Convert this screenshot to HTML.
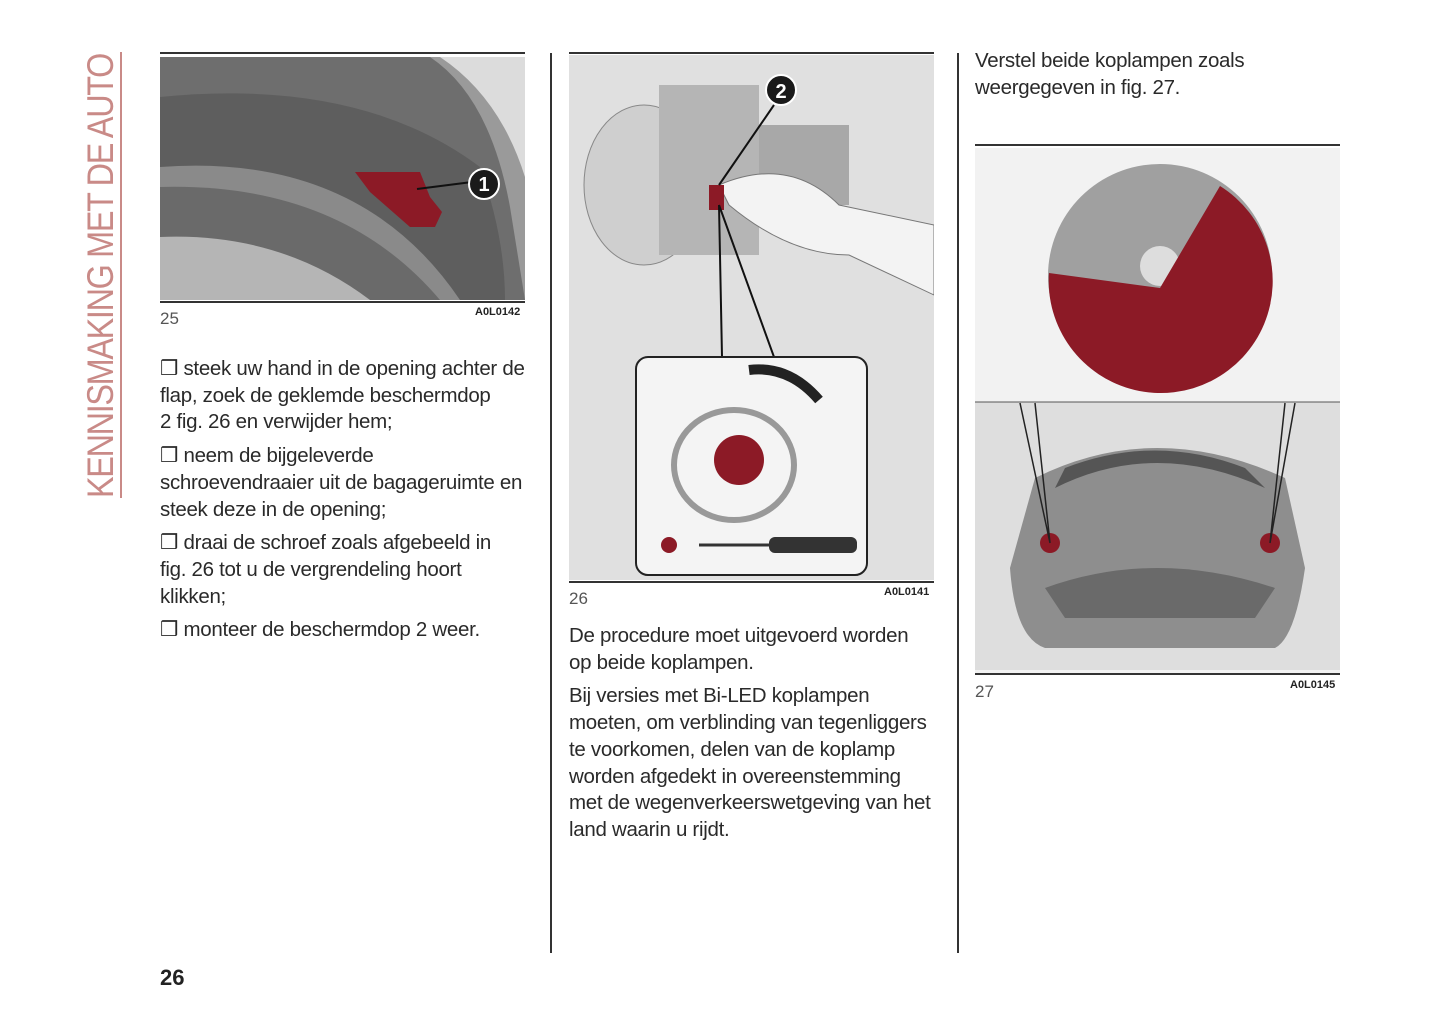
<!DOCTYPE html>
<html><head><meta charset="utf-8"><style>
body{margin:0;background:#fff;width:1445px;height:1026px;position:relative;overflow:hidden;font-family:"Liberation Sans",sans-serif;color:#333}
.a{position:absolute}
.rule{position:absolute;height:2px;background:#333}
.t{position:absolute;font-size:20.5px;line-height:26.7px;color:#2a2a2a;letter-spacing:-0.3px;white-space:nowrap}
.t p{margin:0 0 7px 0}
.cap{position:absolute;font-size:17px;color:#555}
.code{position:absolute;font-size:11px;font-weight:bold;color:#222}
</style></head><body>
<div class="a" style="left:120px;top:52px;width:2px;height:446px;background:#c98a87"></div>
<div class="a" style="left:82px;top:498px;width:530px;height:38px;transform-origin:0 0;transform:rotate(-90deg) scaleX(0.875);font-size:37px;line-height:38px;color:#c98a87;letter-spacing:-1.5px;white-space:nowrap">KENNISMAKING MET DE AUTO</div>

<div class="rule" style="left:160px;top:52px;width:365px"></div>
<svg class="a" style="left:160px;top:57px" width="365" height="243">
<rect width="365" height="243" fill="#9a9a9a"/>
<path d="M0 0 H280 Q340 40 365 120 V0Z" fill="#dcdcdc"/>
<path d="M0 0 H270 Q330 40 350 150 L365 243 H0Z" fill="#6e6e6e"/>
<path d="M0 40 Q200 20 320 110 Q345 180 345 243 H0Z" fill="#5e5e5e"/>
<path d="M0 110 Q200 95 300 243 H0Z" fill="#8a8a8a"/>
<path d="M0 130 Q180 125 280 243 H0Z" fill="#6a6a6a"/>
<path d="M0 180 Q120 175 210 243 H0Z" fill="#b5b5b5"/>
<path d="M195 115 L260 115 L270 140 L282 155 L275 170 L250 170 L210 135Z" fill="#8c1a26"/>
<line x1="257" y1="132" x2="312" y2="125" stroke="#111" stroke-width="2"/>
<circle cx="324" cy="127" r="15" fill="#1a1a1a" stroke="#fff" stroke-width="2"/>
<text x="324" y="134" fill="#fff" font-size="20" font-weight="bold" text-anchor="middle">1</text>
</svg>
<div class="rule" style="left:160px;top:301px;width:365px"></div>
<div class="cap" style="left:160px;top:309px">25</div>
<div class="code" style="left:475px;top:306px">A0L0142</div>
<div class="t" style="left:160px;top:356px">
<p>❒ steek uw hand in de opening achter de<br>flap, zoek de geklemde beschermdop<br>2 fig. 26 en verwijder hem;</p>
<p>❒ neem de bijgeleverde<br>schroevendraaier uit de bagageruimte en<br>steek deze in de opening;</p>
<p>❒ draai de schroef zoals afgebeeld in<br>fig. 26 tot u de vergrendeling hoort<br>klikken;</p>
<p>❒ monteer de beschermdop 2 weer.</p>
</div>

<div class="a" style="left:550px;top:53px;width:1.5px;height:900px;background:#333"></div>
<div class="a" style="left:957px;top:53px;width:1.5px;height:900px;background:#333"></div>

<div class="rule" style="left:569px;top:52px;width:365px"></div>
<svg class="a" style="left:569px;top:55px" width="365" height="525">
<rect width="365" height="525" fill="#e0e0e0"/>
<ellipse cx="75" cy="130" rx="60" ry="80" fill="#cfcfcf" stroke="#888"/>
<rect x="90" y="30" width="100" height="170" fill="#b5b5b5"/>
<rect x="190" y="70" width="90" height="80" fill="#a8a8a8"/>
<path d="M150 130 Q220 100 270 150 L365 170 V240 L280 200 Q220 200 160 150Z" fill="#f3f3f3" stroke="#777"/>
<rect x="140" y="130" width="15" height="25" fill="#8c1a26"/>
<line x1="150" y1="130" x2="205" y2="50" stroke="#111" stroke-width="2"/>
<circle cx="212" cy="35" r="15" fill="#1a1a1a" stroke="#fff" stroke-width="2"/>
<text x="212" y="43" fill="#fff" font-size="20" font-weight="bold" text-anchor="middle">2</text>
<path d="M150 150 L153 302 M150 150 L205 302" stroke="#111" stroke-width="2" fill="none"/>
<rect x="67" y="302" width="231" height="218" rx="12" fill="#f4f4f4" stroke="#222" stroke-width="2"/>
<ellipse cx="165" cy="410" rx="60" ry="55" fill="none" stroke="#999" stroke-width="6"/>
<ellipse cx="170" cy="405" rx="25" ry="25" fill="#8c1a26"/>
<path d="M180 315 Q220 310 250 345" stroke="#222" stroke-width="10" fill="none"/>
<line x1="130" y1="490" x2="285" y2="490" stroke="#333" stroke-width="3"/>
<rect x="200" y="482" width="88" height="16" rx="6" fill="#333"/>
<circle cx="100" cy="490" r="8" fill="#8c1a26"/>
</svg>
<div class="rule" style="left:569px;top:581px;width:365px"></div>
<div class="cap" style="left:569px;top:589px">26</div>
<div class="code" style="left:884px;top:586px">A0L0141</div>
<div class="t" style="left:569px;top:623px">
<p>De procedure moet uitgevoerd worden<br>op beide koplampen.</p>
<p>Bij versies met Bi-LED koplampen<br>moeten, om verblinding van tegenliggers<br>te voorkomen, delen van de koplamp<br>worden afgedekt in overeenstemming<br>met de wegenverkeerswetgeving van het<br>land waarin u rijdt.</p>
</div>

<div class="t" style="left:975px;top:48px"><p>Verstel beide koplampen zoals<br>weergegeven in fig. 27.</p></div>
<div class="rule" style="left:975px;top:144px;width:365px"></div>
<svg class="a" style="left:975px;top:148px" width="365" height="525">
<rect width="365" height="525" fill="#f2f2f2"/>
<circle cx="185" cy="128" r="112" fill="#a0a0a0"/>
<circle cx="185" cy="118" r="20" fill="#ddd"/>
<path d="M185 140 L245 38 A112 112 0 1 1 74 125Z" fill="#8c1a26"/>
<rect x="0" y="254" width="365" height="268" fill="#dedede"/>
<path d="M60 330 Q180 270 310 330 L330 420 Q320 490 300 500 H70 Q40 490 35 420Z" fill="#8e8e8e"/>
<path d="M80 340 Q180 290 290 340 L270 320 Q180 285 90 320Z" fill="#555"/>
<path d="M70 440 Q180 400 300 440 L280 470 H90Z" fill="#6a6a6a"/>
<circle cx="75" cy="395" r="10" fill="#8c1a26"/><circle cx="295" cy="395" r="10" fill="#8c1a26"/>
<path d="M45 255 L75 395 L60 255 M320 255 L295 395 L310 255" stroke="#222" stroke-width="1.5" fill="none"/>
<line x1="0" y1="254" x2="365" y2="254" stroke="#555"/>
</svg>
<div class="rule" style="left:975px;top:673px;width:365px"></div>
<div class="cap" style="left:975px;top:682px">27</div>
<div class="code" style="left:1290px;top:679px">A0L0145</div>

<div class="a" style="left:160px;top:965px;font-size:22px;font-weight:bold;color:#222">26</div>
</body></html>
